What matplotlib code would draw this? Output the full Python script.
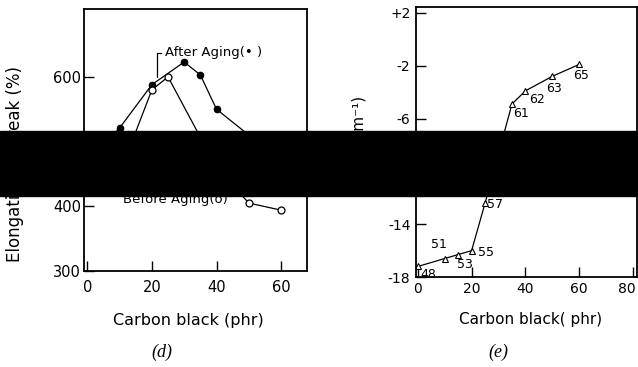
import matplotlib
matplotlib.use("Agg")
import matplotlib.pyplot as plt
from matplotlib.patches import Rectangle
from matplotlib.transforms import ScaledTranslation

# (d) elongation at break vs carbon black
cb_after = [0, 10, 20, 30, 35, 40, 50]
elong_after = [470, 521, 588, 623, 603, 550, 510]
cb_before = [10, 20, 25, 40, 50, 60]
elong_before = [450, 580, 600, 460, 405, 394]

# (e) log conductivity vs carbon black
cb_cond = [0, 10, 15, 20, 25, 35, 40, 50, 60]
log_cond = [-17.2, -16.6, -16.3, -16.0, -12.4, -4.9, -3.9, -2.8, -1.9]
point_ids = ["48", "51", "53", "55", "57", "61", "62", "63", "65"]
# label offsets in pixels from each point
id_offsets = [(10, -8), (-6, 14), (7, -10), (14, -2), (10, -1),
              (9, -9), (12, -9), (2, -12), (2, -11)]

plt.rcParams['font.family'] = 'DejaVu Sans'

fig = plt.figure(figsize=(6.38, 3.67), dpi=100)
ax1 = fig.add_axes([0.1317, 0.2616, 0.3495, 0.714])
ax2 = fig.add_axes([0.652, 0.2452, 0.3464, 0.7357])

# ---- panel (d)
ax1.plot(cb_after, elong_after, color='black', lw=0.9, marker='o', ms=4.5,
         mfc='black', mec='black')
ax1.plot(cb_before, elong_before, color='black', lw=0.9, marker='o', ms=5,
         mfc='white', mec='black', mew=0.9)
ax1.set_xlim(-1, 68)
ax1.set_ylim(300, 705)
ax1.set_xticks([0, 20, 40, 60])
ax1.set_yticks([300, 400, 500, 600])
ax1.tick_params(direction='in', length=7, width=1, labelsize=10.5)
ax1.tick_params(axis='x', pad=6.5)
ax1.tick_params(axis='y', pad=2)
ax1.set_xlabel('Carbon black (phr)', fontsize=11.5)
ax1.xaxis.set_label_coords(0.47, -0.16)
ax1.set_ylabel('Elongation at break (%)', fontsize=12)
ax1.yaxis.set_label_coords(-0.27, 0.41)
ax1.annotate('After Aging(\u2022 )', xy=(21.5, 600), xytext=(24, 637),
             fontsize=9.5, ha='left', va='center',
             arrowprops=dict(arrowstyle='-', lw=0.9, color='black',
                             connectionstyle='angle,angleA=0,angleB=90,rad=0',
                             shrinkA=1, shrinkB=0))
ax1.text(11, 411, 'Before Aging(o)', fontsize=9.5, ha='left', va='center')

# ---- panel (e)
ax2.plot(cb_cond, log_cond, color='black', lw=0.9, marker='^', ms=4.5,
         mfc='white', mec='black', mew=0.8)
for x, y, s, off in zip(cb_cond, log_cond, point_ids, id_offsets):
    ax2.annotate(s, xy=(x, y), xytext=off, textcoords='offset pixels',
                 ha='center', va='center', fontsize=9)
ax2.set_xlim(-0.7, 81.5)
ax2.set_ylim(-18, 2.45)
ax2.set_xticks([0, 20, 40, 60, 80])
ax2.set_yticks([-18, -14, -10, -6, -2, 2])
ax2.set_yticklabels(['-18', '-14', '-10', '-6', '-2', '+2'])
ax2.tick_params(direction='in', length=7, width=1, labelsize=10)
ax2.tick_params(axis='x', pad=3.5)
ax2.tick_params(axis='y', pad=4)
ax2.set_xlabel('Carbon black( phr)', fontsize=11)
ax2.xaxis.set_label_coords(0.52, -0.13)
ax2.set_ylabel('log(\u03c3/S\u00b7cm\u207b\u00b9)', fontsize=11)
ax2.yaxis.set_label_coords(-0.23, 0.49)

# the last x tick label sits a little left of its tick, inside the page
last = ax2.get_xticklabels()[-1]
last.set_transform(last.get_transform() +
                   ScaledTranslation(-6 / 100, 0, fig.dpi_scale_trans))

for ax in (ax1, ax2):
    for sp in ax.spines.values():
        sp.set_linewidth(1.3)

fig.text(162 / 638, 1 - 352 / 367, '(d)', fontsize=13, style='italic',
         family='Liberation Serif', ha='center', va='center')
fig.text(498 / 638, 1 - 352 / 367, '(e)', fontsize=13, style='italic',
         family='Liberation Serif', ha='center', va='center')

# redaction bar across the middle of the scan
fig.add_artist(Rectangle((0, 1 - 196 / 367), 1, 65 / 367,
                         transform=fig.transFigure, color='black', zorder=10))

fig.savefig('out.png', dpi=100)
